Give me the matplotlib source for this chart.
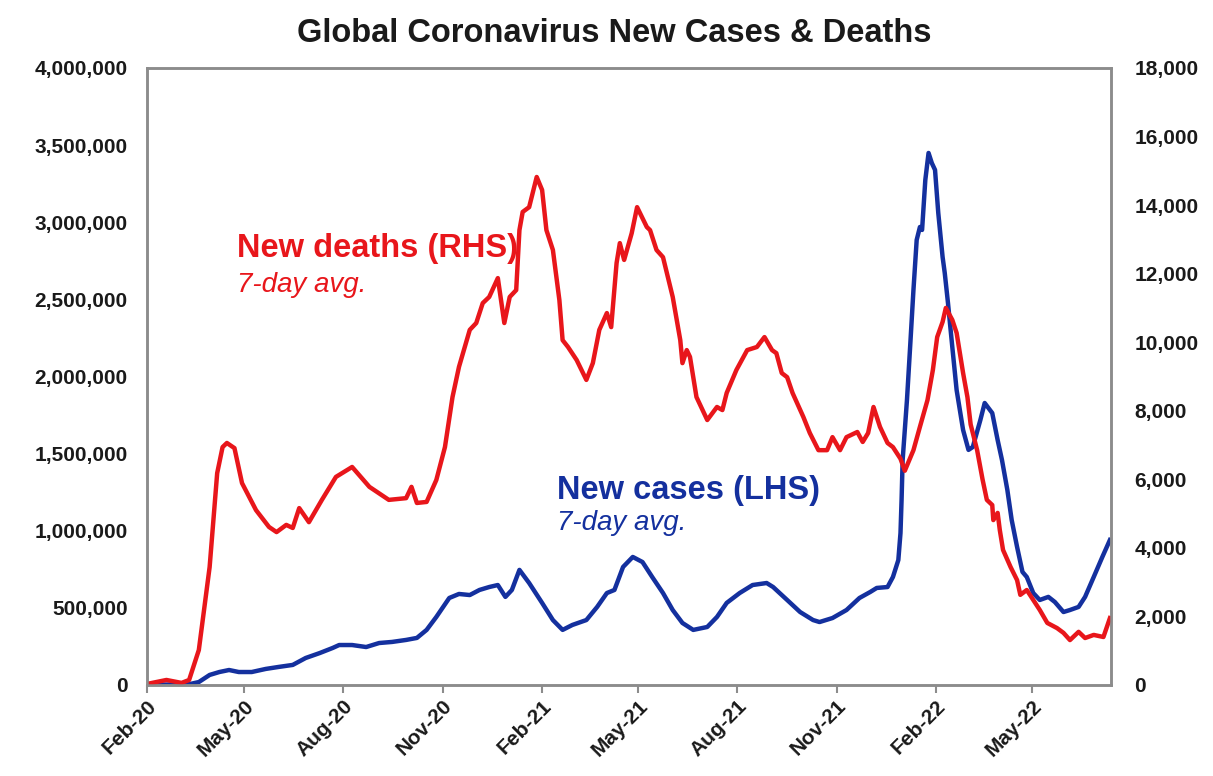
import matplotlib
matplotlib.use("Agg")
import matplotlib.pyplot as plt
import matplotlib.dates as mdates
from matplotlib.ticker import MultipleLocator, FuncFormatter
import pandas as pd

plt.rcParams['font.family'] = ['Liberation Sans', 'DejaVu Sans']

START = pd.Timestamp('2020-02-01')
END_DAY = 893

# new deaths, 7-day average (days since 1 Feb 2020, deaths per day)
deaths_day = [0, 18, 32, 39, 48, 58, 65, 70, 74, 81, 88, 101, 113, 120, 129, 135,
              141, 150, 162, 175, 190, 206, 224, 240, 245, 250, 259, 268, 276, 283,
              289, 299, 305, 311, 317, 325, 331, 336, 342, 345, 348, 354, 361, 366,
              370, 376, 382, 385, 390, 398, 407, 413, 419, 426, 430, 435, 438, 442,
              449, 454, 463, 466, 472, 478, 487, 494, 496, 500, 503, 509, 519, 528,
              533, 537, 546, 556, 565, 572, 579, 583, 588, 593, 598, 608, 614, 622,
              630, 635, 642, 648, 658, 663, 668, 673, 679, 686, 691, 698, 702, 710,
              716, 723, 728, 732, 737, 740, 746, 750, 756, 760, 763, 769, 774, 778,
              783, 784, 788, 790, 793, 800, 806, 809, 815, 821, 827, 834, 843, 849,
              855, 863, 869, 877, 886, 892]
deaths = [30, 146, 60, 146, 1020, 3440, 6180, 6940, 7060, 6910, 5890, 5100, 4610,
          4460, 4670, 4580, 5160, 4750, 5400, 6070, 6360, 5780, 5400, 5450, 5780,
          5310, 5340, 5980, 6940, 8400, 9280, 10360, 10560, 11140, 11320, 11870,
          10560, 11320, 11520, 13270, 13800, 13940, 14820, 14440, 13270, 12690,
          11230, 10060, 9860, 9480, 8900, 9390, 10360, 10850, 10440, 12310, 12890,
          12400, 13180, 13940, 13360, 13270, 12690, 12480, 11320, 10060, 9390, 9770,
          9570, 8400, 7730, 8110, 8020, 8520, 9190, 9770, 9860, 10150, 9770, 9680,
          9100, 8980, 8520, 7820, 7350, 6850, 6850, 7230, 6850, 7230, 7380, 7090,
          7350, 8110, 7530, 7060, 6940, 6600, 6250, 6850, 7530, 8310, 9190, 10150,
          10590, 11000, 10650, 10270, 9100, 8400, 7600, 6850, 6000, 5400, 5250,
          4810, 5020, 4520, 3940, 3440, 3060, 2630, 2770, 2480, 2190, 1810, 1660,
          1520, 1310, 1550, 1370, 1460, 1400, 1950]

# new cases, 7-day average
cases_day = [0, 25, 39, 48, 58, 67, 76, 85, 97, 110, 122, 135, 147, 160, 172, 178,
             190, 203, 215, 227, 240, 250, 259, 268, 280, 289, 299, 308, 317, 325,
             332, 338, 345, 354, 366, 376, 385, 394, 407, 417, 426, 433, 441, 450,
             459, 468, 478, 487, 496, 506, 519, 528, 537, 549, 561, 574, 580, 593,
             605, 617, 623, 635, 648, 660, 670, 676, 686, 691, 696, 698, 699, 700,
             704, 707, 710, 713, 716, 718, 721, 724, 727, 730, 733, 737, 739, 742,
             746, 750, 756, 761, 765, 772, 776, 783, 788, 792, 797, 801, 806, 811,
             815, 821, 827, 835, 841, 849, 855, 863, 869, 877, 885, 892]
cases = [2000, 3000, 5000, 19000, 65000, 84000, 97000, 84000, 84000, 104000,
         117000, 130000, 175000, 207000, 240000, 259000, 259000, 246000, 272000,
         279000, 292000, 305000, 357000, 441000, 564000, 590000, 583000, 616000,
         635000, 648000, 571000, 616000, 746000, 661000, 532000, 421000, 357000,
         389000, 421000, 506000, 596000, 616000, 765000, 830000, 797000, 700000,
         596000, 486000, 402000, 357000, 376000, 441000, 532000, 596000, 648000,
         661000, 635000, 551000, 473000, 421000, 408000, 434000, 486000, 564000,
         603000, 629000, 635000, 700000, 810000, 985000, 1199000, 1459000, 1848000,
         2200000, 2560000, 2885000, 2969000, 2950000, 3274000, 3449000, 3384000,
         3339000, 3060000, 2775000, 2671000, 2476000, 2191000, 1912000, 1653000,
         1524000, 1543000, 1718000, 1828000, 1763000, 1588000, 1459000, 1264000,
         1070000, 895000, 733000, 700000, 596000, 551000, 571000, 538000, 473000,
         486000, 506000, 571000, 700000, 830000, 940000]

deaths_dates = START + pd.to_timedelta(deaths_day, unit='D')
cases_dates = START + pd.to_timedelta(cases_day, unit='D')

RED = '#E8161B'
BLUE = '#14309E'
SPINE = '#8c8c8c'

fig = plt.figure(figsize=(12.13, 7.76), dpi=100)
ax = fig.add_axes([0.1212, 0.1173, 0.7947, 0.7951])
ax2 = ax.twinx()

ax.plot(cases_dates, cases, color=BLUE, lw=3.2, solid_joinstyle='round')
ax2.plot(deaths_dates, deaths, color=RED, lw=3.2, solid_joinstyle='round')

ax.set_xlim(START, START + pd.Timedelta(days=END_DAY))
ax.set_ylim(0, 4000000)
ax2.set_ylim(0, 18000)
ax.yaxis.set_major_locator(MultipleLocator(500000))
ax2.yaxis.set_major_locator(MultipleLocator(2000))
fmt = FuncFormatter(lambda v, p: f'{int(v):,}')
ax.yaxis.set_major_formatter(fmt)
ax2.yaxis.set_major_formatter(fmt)

ax.xaxis.set_major_locator(mdates.MonthLocator(bymonth=[2, 5, 8, 11]))
ax.xaxis.set_major_formatter(mdates.DateFormatter('%b-%y'))

for a in (ax, ax2):
    for s in a.spines.values():
        s.set_color(SPINE)
        s.set_linewidth(1.8)

ax.tick_params(axis='y', length=0, pad=14, labelsize=15)
ax2.tick_params(axis='y', length=0, pad=17, labelsize=15)
ax.tick_params(axis='x', length=6, width=1.5, color=SPINE, direction='out',
               pad=2, labelsize=15)
for lbl in ax.get_xticklabels():
    lbl.set_rotation(45)
    lbl.set_ha('right')
    lbl.set_rotation_mode('anchor')
for lbl in ax.get_xticklabels() + ax.get_yticklabels() + ax2.get_yticklabels():
    lbl.set_fontweight('bold')
    lbl.set_color('#1a1a1a')

fig.suptitle('Global Coronavirus New Cases & Deaths', x=0.506, y=0.957,
             fontsize=23.5, fontweight='bold', color='#1a1a1a', va='center')

ax.text(0.093, 0.708, 'New deaths (RHS)', transform=ax.transAxes, color=RED,
        fontsize=23.5, fontweight='bold', va='center')
ax.text(0.093, 0.648, '7-day avg.', transform=ax.transAxes, color=RED,
        fontsize=20, style='italic', va='center')
ax.text(0.425, 0.316, 'New cases (LHS)', transform=ax.transAxes, color=BLUE,
        fontsize=23.5, fontweight='bold', va='center')
ax.text(0.425, 0.263, '7-day avg.', transform=ax.transAxes, color=BLUE,
        fontsize=20, style='italic', va='center')

fig.savefig('out.png', dpi=100)
